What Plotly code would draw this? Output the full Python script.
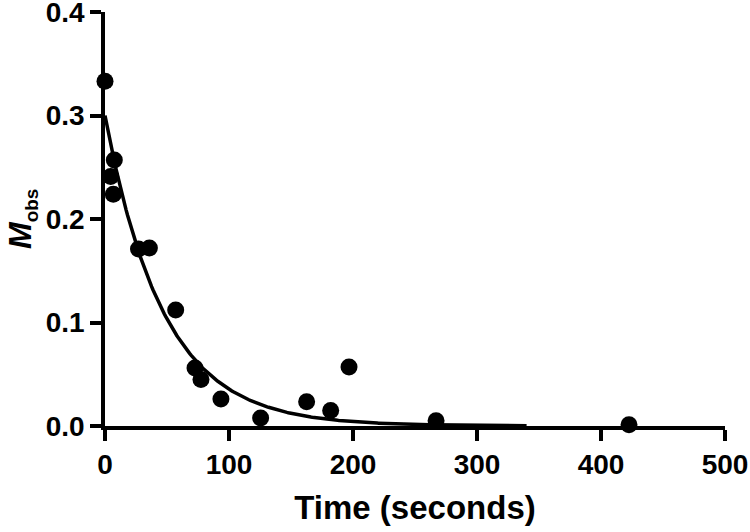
import numpy as np
import plotly.graph_objects as go

# Observed data points (Time in seconds, M_obs)
time_s = [0, 4.6, 6.7, 7.5, 27, 35.8, 57, 72.6, 77.4, 93.5, 125.5, 162.6, 182, 196.8, 267, 422.6]
m_obs = [0.333, 0.241, 0.224, 0.257, 0.171, 0.172, 0.112, 0.056, 0.045, 0.026, 0.0077, 0.0235, 0.015, 0.057, 0.005, 0.0013]

# One-phase exponential decay fit parameters
fit_A = 0.30
fit_k = 0.0213
fit_t_end = 340

x_ticks = [0, 100, 200, 300, 400, 500]
y_ticks = [0.0, 0.1, 0.2, 0.3, 0.4]
y_tick_labels = ["0.0", "0.1", "0.2", "0.3", "0.4"]

t_fit = np.linspace(0, fit_t_end, 300)
m_fit = fit_A * np.exp(-fit_k * t_fit)

FONT = "Liberation Sans, Arial, sans-serif"
L, R, T, B = 105, 25, 12, 106
W, H = 750, 532

fig = go.Figure()
fig.add_trace(go.Scatter(
    x=t_fit, y=m_fit, mode="lines",
    line=dict(color="black", width=3.5),
    cliponaxis=False, showlegend=False, hoverinfo="skip"))
fig.add_trace(go.Scatter(
    x=time_s, y=m_obs, mode="markers",
    marker=dict(color="black", size=17, line=dict(width=0)),
    cliponaxis=False, showlegend=False))

fig.update_layout(
    width=W, height=H,
    margin=dict(l=L, r=R, t=T, b=B),
    plot_bgcolor="white", paper_bgcolor="white",
    font=dict(family=FONT, color="black"),
)
fig.update_xaxes(
    range=[0, 500.01], tickvals=x_ticks,
    showline=True, linecolor="black", linewidth=3.5,
    ticks="outside", ticklen=11, tickwidth=3.5, tickcolor="black",
    tickfont=dict(family=FONT, size=28, color="black", weight="bold"),
    ticklabeloverflow="allow",
    showgrid=False, zeroline=False, automargin=False,
    title=dict(text="<b>Time (seconds)</b>", font=dict(family=FONT, size=33, color="black"), standoff=18),
)
fig.update_yaxes(
    range=[0, 0.40001], tickvals=y_ticks, ticktext=y_tick_labels,
    showline=True, linecolor="black", linewidth=3.5,
    ticks="outside", ticklen=11, tickwidth=3.5, tickcolor="black",
    tickfont=dict(family=FONT, size=28, color="black", weight="bold"),
    ticklabeloverflow="allow",
    showgrid=False, zeroline=False, automargin=False,
)
fig.add_annotation(
    text="<b><i>M</i><sub><span style='font-size:19px'>obs</span></sub></b>",
    font=dict(family=FONT, size=32, color="black"),
    xref="paper", yref="paper",
    x=-(L - 0) / (W - L - R), y=0.5,
    xanchor="left", yanchor="middle",
    textangle=-90, showarrow=False,
)

fig.write_html("out.html", config={"displayModeBar": False},
               post_script="document.body.style.margin='0';document.body.style.overflow='hidden';")
